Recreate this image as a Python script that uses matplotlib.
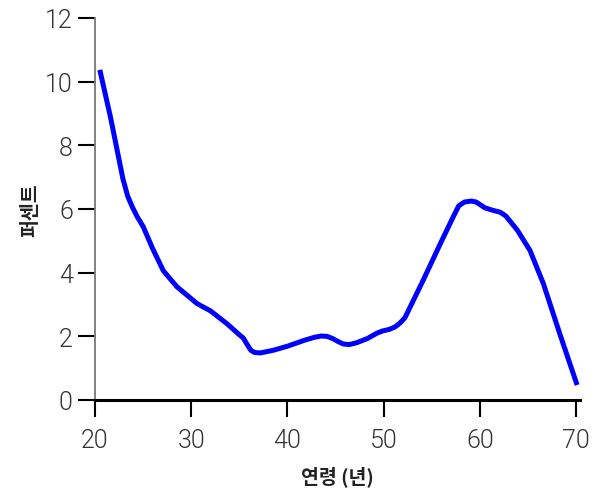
import matplotlib
matplotlib.use("Agg")
import matplotlib.pyplot as plt

age = [20.5, 21.6, 22.3, 22.9, 23.4, 23.9, 24.4, 25.0, 26.0, 27.1, 28.5, 30.6, 32.0, 33.7,
       35.0, 35.4, 35.8, 36.2, 36.6, 37.2, 38.5, 40.0, 41.8, 42.8, 43.5, 44.1, 44.7,
       45.3, 45.8, 46.4, 47.2, 48.3, 49.3, 49.9, 50.6, 51.2, 51.7, 52.2, 54.1, 55.9,
       57.3, 57.8, 58.4, 59.1, 59.6, 60.0, 60.5, 61.2, 62.1, 62.7, 63.9, 65.2, 66.6,
       68.3, 70.1]
percent = [10.37, 8.9, 7.85, 6.95, 6.4, 6.05, 5.75, 5.45, 4.75, 4.06, 3.56, 3.03, 2.8, 2.4,
           2.05, 1.95, 1.75, 1.56, 1.49, 1.48, 1.56, 1.69, 1.88, 1.97, 2.01, 2.0, 1.93,
           1.83, 1.76, 1.74, 1.8, 1.93, 2.1, 2.17, 2.22, 2.3, 2.42, 2.58, 3.76, 4.92,
           5.8, 6.1, 6.22, 6.25, 6.22, 6.14, 6.04, 5.97, 5.9, 5.78, 5.33, 4.7, 3.65,
           2.08, 0.47]
xticks = [20, 30, 40, 50, 60, 70]
yticks = [0, 2, 4, 6, 8, 10, 12]
xlabel = "연령 (년)"
ylabel = "퍼센트"

plt.rcParams['font.family'] = ['Noto Sans CJK KR', 'DejaVu Sans']

fig = plt.figure(figsize=(5.95, 4.89), dpi=100)
ax = fig.add_axes([95/595, (489-401)/489, (580-95)/595, (401-19)/489])

ax.plot(age, percent, color='#0000FF', lw=3.6, solid_joinstyle='round', solid_capstyle='butt')

ax.set_xlim(20, 70.4)
ax.set_ylim(0, 12)
ax.set_xticks(xticks)
ax.set_yticks(yticks)
tick_font = dict(family=['Roboto', 'Noto Sans CJK JP', 'DejaVu Sans'], size=18, weight=300)
ax.set_xticklabels([str(t) for t in xticks], color='#333333', fontdict=tick_font)
ax.set_yticklabels([str(t) for t in yticks], color='#333333', fontdict=tick_font)
ax.tick_params(axis='both', direction='out', length=12, width=1.5, color='black')
ax.tick_params(axis='x', pad=8)
ax.tick_params(axis='y', pad=4)

for s in ['top', 'right']:
    ax.spines[s].set_visible(False)
ax.spines['left'].set_color('#777777')
ax.spines['left'].set_linewidth(1.3)
ax.spines['bottom'].set_color('black')
ax.spines['bottom'].set_linewidth(2.2)

ax.set_xlabel(xlabel, fontsize=14, fontweight='bold', color='#222222', labelpad=10)
ax.set_ylabel(ylabel, fontsize=14, fontweight='bold', color='#222222')
ax.yaxis.set_label_coords(-0.113, 0.5)

fig.savefig('out.png', dpi=100)
